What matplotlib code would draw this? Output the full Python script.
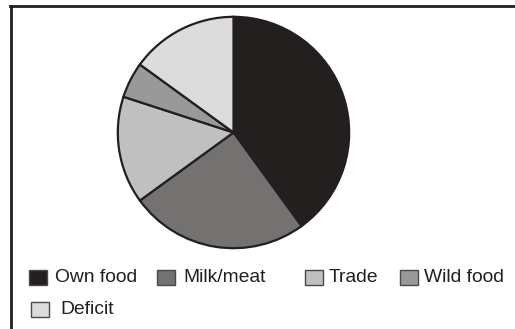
import matplotlib.pyplot as plt
from matplotlib.patches import Rectangle
from matplotlib.lines import Line2D

plt.rcParams['font.family'] = ['Liberation Sans', 'DejaVu Sans']

# data (percent of food sources)
labels = ["Own food", "Milk/meat", "Trade", "Wild food", "Deficit"]
shares = [40, 25, 15, 5, 15]
colors = ["#231f1e", "#737271", "#c0c0c0", "#9a999a", "#dcdcdc"]

W, H = 515, 329
fig = plt.figure(figsize=(W / 100, H / 100), dpi=100)

# pie axes: centre ~(233.5, 132.5) px, radius ~118 px
cx, cy, r = 233.5, 132.5, 118
ax = fig.add_axes([(cx - r) / W, 1 - (cy + r) / H, 2 * r / W, 2 * r / H])
ax.pie(shares, colors=colors, startangle=90, counterclock=False, radius=1,
       wedgeprops=dict(edgecolor="#231f20", linewidth=1.6))
ax.set_xlim(-1.02, 1.02)
ax.set_ylim(-1.02, 1.02)
ax.axis("off")

# frame: only top and left edges
fig.add_artist(Line2D([10 / W, 1], [1 - 6 / H, 1 - 6 / H], transform=fig.transFigure,
                      color="#231f20", linewidth=2))
fig.add_artist(Line2D([11 / W, 11 / W], [1 - 6 / H, 0], transform=fig.transFigure,
                      color="#231f20", linewidth=2))

# hand-placed legend (pixel positions)
legend_pos = [(29, 277.5, 55), (157, 277.5, 183), (305, 277.5, 329),
              (400, 277.5, 424), (31, 309, 60)]
for (bx, by, tx), lab, col in zip(legend_pos, labels, colors):
    fig.add_artist(Rectangle((bx / W, 1 - (by + 7.5) / H), 18 / W, 15 / H,
                             transform=fig.transFigure, facecolor=col,
                             edgecolor="#4a4a4a", linewidth=1))
    fig.text(tx / W, 1 - by / H, lab, ha="left", va="center", fontsize=13.9,
             color="#231f20")

fig.savefig("out.png", dpi=100)
